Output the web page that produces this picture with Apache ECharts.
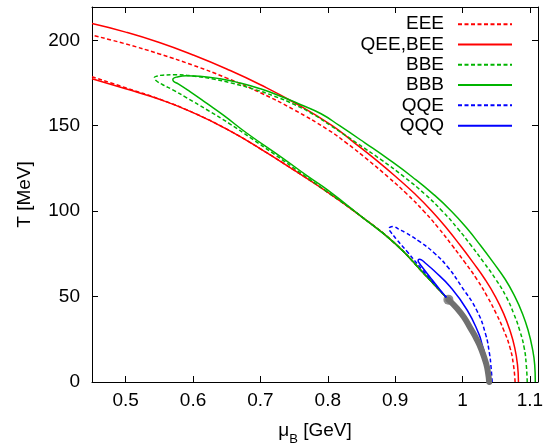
<!DOCTYPE html>
<html>
<head>
<meta charset="utf-8">
<script src="https://cdn.jsdelivr.net/npm/echarts@6/dist/echarts.min.js"></script>
<style>
html,body{margin:0;padding:0;background:#fff;}
#c{width:543px;height:444px;}
</style>
</head>
<body>
<div id="c"></div>
<script>
// ---- axes ----
const xRange = [0.45, 1.112];
const yRange = [0, 219.5];
const xTicks = [0.5, 0.6, 0.7, 0.8, 0.9, 1.0, 1.1];
const yTicks = [0, 50, 100, 150, 200];

// ---- legend names ----
const names = ['EEE', 'QEE,BEE', 'BBE', 'BBB', 'QQE', 'QQQ'];

// ---- shared lower branch and first-order line [muB (GeV), T (MeV)] ----
const commonLower = [[0.45,177.5],[0.50,171.6],[0.55,165.5],[0.60,157.7],[0.65,148],[0.70,136.5],[0.75,124],[0.80,111],[0.85,96.8],[0.90,81],[0.94,64.6],[0.979,48.2]];
const firstOrder = [[0.979,48.2],[0.992,43],[1.002,38],[1.012,31.3],[1.021,25],[1.028,19],[1.035,10.8],[1.038,5],[1.0395,0]];
const critPoint = [[0.979,48.2]];

// ---- EEE (red dashed) ----
const eeeUpper = [[1.078,0],[1.0756,10],[1.0705,20],[1.0615,30],[1.050,40],[1.0367,50],[1.0215,60],[1.0035,70],[0.9845,80],[0.9645,90],[0.9425,100],[0.9175,110],[0.8895,120],[0.8595,130],[0.8275,140],[0.80,147.7],[0.75,159.3],[0.70,169.3],[0.65,177.9],[0.60,185.4],[0.55,192],[0.50,197.9],[0.45,203]];
const eeeLower = [[0.45,178.7],[0.50,172.2],[0.55,165.6]];

// ---- QEE,BEE (red solid) ----
const qeeUpper = [[1.083,0],[1.0816,10],[1.0775,20],[1.0705,30],[1.061,40],[1.0487,50],[1.0335,60],[1.0155,70],[0.9965,80],[0.9765,90],[0.9545,100],[0.9295,110],[0.9015,120],[0.8715,130],[0.8395,140],[0.8065,150],[0.75,163.6],[0.70,174],[0.65,183.2],[0.60,191.4],[0.55,198.7],[0.50,204.8],[0.45,209.8]];
const qeeLower = [[0.45,177.5]];

// ---- BBE (green dashed) ----
const bbeUpper = [[1.096,0],[1.0946,10],[1.0915,20],[1.085,30],[1.076,40],[1.0647,50],[1.0495,60],[1.0315,70],[1.0125,80],[0.9925,90],[0.970,100],[0.944,110],[0.9135,120],[0.8795,130],[0.8425,140],[0.8045,150],[0.78,156.3],[0.75,162.5],[0.72,167.4],[0.69,171.4],[0.66,174.7],[0.63,177.3],[0.60,179.1],[0.575,179.8],[0.555,179.6],[0.546,179],[0.5426,178.2]];
const bbeLower = [[0.545,176.5],[0.555,174],[0.57,171],[0.59,166.5],[0.62,159.5],[0.655,151],[0.685,143],[0.72,133.5],[0.76,122.3]];

// ---- BBB (green solid) ----
const bbbUpper = [[1.108,0],[1.1071,10],[1.1035,20],[1.0975,30],[1.089,40],[1.0777,50],[1.0635,60],[1.0455,70],[1.0265,80],[1.0065,90],[0.9835,100],[0.9565,110],[0.9255,120],[0.8915,130],[0.855,140],[0.8175,150],[0.79,157],[0.76,162.3],[0.73,167.3],[0.70,171.6],[0.67,175],[0.64,177.5],[0.61,179],[0.59,179.3],[0.578,178.7],[0.570,177.2]];
const bbbLower = [[0.571,176],[0.578,174.5],[0.596,169.8],[0.62,163.2],[0.645,156.2],[0.68,145.6],[0.734,130.8],[0.77,120.5],[0.80,112.3]];

// ---- QQE (blue dashed) ----
const qqeUpper = [[1.044,0],[1.042,10],[1.040,16.6],[1.034,28.3],[1.021,42],[0.999,55.6],[0.978,67.3],[0.958,75.5],[0.937,82],[0.915,87.5],[0.905,89.5],[0.897,91],[0.892,90.5],[0.891,89.5]];
const qqeLower = [[0.893,88],[0.898,85.5],[0.903,83],[0.918,76.2],[0.94,65.8]];

// ---- QQQ (blue solid) ----
const qqqUpper = [[1.039,0],[1.037,8],[1.034,15],[1.029,22],[1.024,28.3],[1.007,42],[0.982,55.6],[0.957,65.4],[0.945,69.5],[0.939,71.5],[0.936,71.8],[0.934,71]];
const qqqLower = [[0.935,70],[0.94,67.3],[0.952,61.2],[0.965,54.8],[0.979,48.2]];

const RED = '#ff0000', GREEN = '#00b400', BLUE = '#0000ff', GREY = '#707070';
const DASH = [4, 2.5];
const FONT = 'Liberation Sans, Arial, Helvetica, sans-serif';

function after(points, mu) { return points.filter(p => p[0] > mu + 1e-9); }
function lowerPath(own) {
  const last = own.length ? own[own.length - 1][0] : -1;
  return own.concat(after(commonLower, last)).concat(firstOrder.slice(1));
}

function lineSeries(name, data, color, dashed) {
  return {
    name: name, type: 'line', data: data, symbol: 'none', smooth: 0.5,
    clip: true, silent: true, animation: false,
    lineStyle: { color: color, width: 1.5, type: dashed ? DASH : 'solid' },
    itemStyle: { color: color }
  };
}

const series = [
  lineSeries('EEE', eeeUpper, RED, true),
  lineSeries('EEE', lowerPath(eeeLower), RED, true),
  lineSeries('QEE,BEE', qeeUpper, RED, false),
  lineSeries('QEE,BEE', lowerPath(qeeLower), RED, false),
  lineSeries('BBE', bbeUpper.concat(lowerPath(bbeLower)), GREEN, true),
  lineSeries('BBB', bbbUpper.concat(lowerPath(bbbLower)), GREEN, false),
  lineSeries('QQE', qqeUpper.concat(lowerPath(qqeLower)), BLUE, true),
  lineSeries('QQQ', qqqUpper.concat(qqqLower).concat(firstOrder.slice(1)), BLUE, false),
  {
    type: 'line', data: firstOrder, symbol: 'none', smooth: 0.5, silent: true, animation: false,
    lineStyle: { color: GREY, width: 6, cap: 'round' }
  },
  {
    type: 'scatter', data: critPoint, symbol: 'circle', symbolSize: 10, silent: true, animation: false,
    itemStyle: { color: GREY }
  }
];

const tickStyle = { show: true, inside: true, length: 6, lineStyle: { color: '#000', width: 1 } };
const axLine = { show: true, onZero: false, lineStyle: { color: '#000', width: 1 } };

const chart = echarts.init(document.getElementById('c'), null, { renderer: 'canvas' });
chart.setOption({
  animation: false,
  backgroundColor: '#fff',
  grid: { left: 92, right: 5, top: 7, bottom: 62, containLabel: false, outerBoundsMode: 'none' },
  legend: {
    data: names, orient: 'vertical', align: 'right',
    right: 30, top: 14, padding: 0,
    itemWidth: 54, itemHeight: 2, itemGap: 0,
    itemStyle: { opacity: 0 },
    textStyle: { fontFamily: FONT, fontSize: 19, color: '#000', lineHeight: 20.3, padding: [0, 9, 0, 0] },
    selectedMode: false
  },
  xAxis: [
    {
      type: 'value', min: xRange[0], max: xRange[1], position: 'bottom',
      axisLine: axLine,
      axisTick: Object.assign({ customValues: xTicks }, tickStyle),
      axisLabel: { customValues: xTicks, fontFamily: FONT, fontSize: 19, color: '#000', margin: 9 },
      splitLine: { show: false },
      name: '{m|μ}{s|B}{m| [GeV]}', nameLocation: 'middle', nameGap: 39,
      nameTextStyle: { rich: {
        m: { fontFamily: FONT, fontSize: 19, color: '#000' },
        s: { fontFamily: FONT, fontSize: 13, color: '#000', verticalAlign: 'bottom', padding: [0, 0, -6, 0] }
      } }
    },
    {
      type: 'value', min: xRange[0], max: xRange[1], position: 'top',
      axisLine: axLine,
      axisTick: Object.assign({ customValues: xTicks }, tickStyle),
      axisLabel: { show: false }, splitLine: { show: false }
    }
  ],
  yAxis: [
    {
      type: 'value', min: yRange[0], max: yRange[1], position: 'left',
      axisLine: axLine,
      axisTick: Object.assign({ customValues: yTicks }, tickStyle),
      axisLabel: { customValues: yTicks, fontFamily: FONT, fontSize: 19, color: '#000', margin: 12 },
      splitLine: { show: false },
      name: 'T [MeV]', nameLocation: 'middle', nameGap: 58,
      nameTextStyle: { fontFamily: FONT, fontSize: 19, color: '#000' }
    },
    {
      type: 'value', min: yRange[0], max: yRange[1], position: 'right',
      axisLine: axLine,
      axisTick: Object.assign({ customValues: yTicks }, tickStyle),
      axisLabel: { show: false }, splitLine: { show: false }
    }
  ],
  series: series
});
</script>
</body>
</html>
